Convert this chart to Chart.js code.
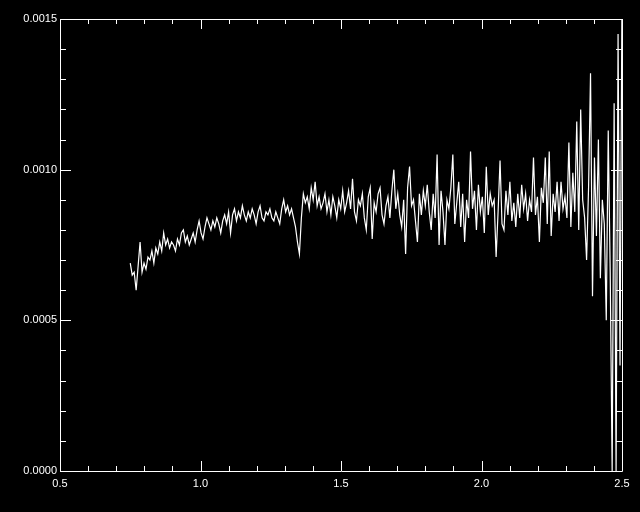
<!DOCTYPE html>
<html>
<head>
<meta charset="utf-8">
<script src="https://cdn.jsdelivr.net/npm/chart.js@4/dist/chart.umd.min.js"></script>
<style>
  html, body { margin: 0; padding: 0; background: #000; }
  canvas { display: block; }
</style>
</head>
<body>
<canvas id="c" width="640" height="512"></canvas>
<script>
// Wavelength grid of the spectrum (start and spacing)
const X_START = 0.75;
const X_STEP = 0.007;

// Flux values
const flux = [
  6.9e-4, 6.5e-4, 6.6e-4, 6.0e-4, 6.8e-4, 7.6e-4, 6.6e-4, 6.9e-4, 6.7e-4, 7.1e-4,
  7.0e-4, 7.3e-4, 6.9e-4, 7.4e-4, 7.2e-4, 7.6e-4, 7.3e-4, 7.9e-4, 7.5e-4, 7.7e-4,
  7.4e-4, 7.6e-4, 7.5e-4, 7.3e-4, 7.7e-4, 7.5e-4, 7.9e-4, 8.0e-4, 7.6e-4, 7.8e-4,
  7.5e-4, 7.7e-4, 7.9e-4, 7.6e-4, 8.0e-4, 8.3e-4, 7.9e-4, 7.7e-4, 8.1e-4, 8.4e-4,
  8.2e-4, 8.0e-4, 8.3e-4, 8.1e-4, 8.4e-4, 8.2e-4, 7.9e-4, 8.3e-4, 8.5e-4, 8.2e-4,
  8.6e-4, 7.9e-4, 8.5e-4, 8.7e-4, 8.3e-4, 8.6e-4, 8.4e-4, 8.8e-4, 8.5e-4, 8.3e-4,
  8.6e-4, 8.4e-4, 8.7e-4, 8.5e-4, 8.2e-4, 8.6e-4, 8.8e-4, 8.4e-4, 8.3e-4, 8.6e-4,
  8.5e-4, 8.7e-4, 8.4e-4, 8.3e-4, 8.6e-4, 8.4e-4, 8.2e-4, 8.7e-4, 9.0e-4, 8.6e-4,
  8.8e-4, 8.5e-4, 8.7e-4, 8.4e-4, 8.1e-4, 7.6e-4, 7.2e-4, 8.4e-4, 9.2e-4, 8.9e-4,
  9.1e-4, 8.7e-4, 9.4e-4, 9.0e-4, 9.6e-4, 8.8e-4, 9.1e-4, 8.7e-4, 8.9e-4, 9.2e-4,
  8.6e-4, 9.0e-4, 8.5e-4, 9.1e-4, 8.8e-4, 8.4e-4, 9.0e-4, 8.7e-4, 9.3e-4, 8.6e-4,
  8.9e-4, 9.3e-4, 8.7e-4, 9.7e-4, 8.6e-4, 8.3e-4, 9.0e-4, 8.8e-4, 9.2e-4, 8.4e-4,
  8.0e-4, 9.1e-4, 9.4e-4, 7.7e-4, 8.9e-4, 8.6e-4, 9.2e-4, 9.4e-4, 8.5e-4, 8.2e-4,
  8.8e-4, 9.1e-4, 8.4e-4, 9.3e-4, 10.0e-4, 8.7e-4, 9.2e-4, 8.5e-4, 8.1e-4, 9.0e-4,
  7.2e-4, 9.4e-4, 10.1e-4, 8.8e-4, 9.0e-4, 8.3e-4, 7.6e-4, 9.2e-4, 8.5e-4, 9.3e-4,
  8.8e-4, 9.5e-4, 8.6e-4, 8.0e-4, 9.2e-4, 8.4e-4, 10.5e-4, 7.5e-4, 9.3e-4, 8.6e-4,
  7.5e-4, 9.0e-4, 8.7e-4, 9.4e-4, 10.5e-4, 8.2e-4, 8.9e-4, 9.6e-4, 8.1e-4, 9.2e-4,
  7.6e-4, 9.0e-4, 8.4e-4, 10.6e-4, 8.7e-4, 9.3e-4, 8.0e-4, 9.5e-4, 8.6e-4, 9.1e-4,
  7.9e-4, 10.1e-4, 8.5e-4, 9.2e-4, 8.8e-4, 9.0e-4, 7.1e-4, 8.6e-4, 10.3e-4, 8.2e-4,
  8.0e-4, 9.3e-4, 8.5e-4, 9.6e-4, 8.3e-4, 8.9e-4, 8.1e-4, 9.2e-4, 8.4e-4, 9.5e-4,
  8.7e-4, 9.2e-4, 8.3e-4, 9.0e-4, 8.6e-4, 10.4e-4, 8.5e-4, 9.1e-4, 7.6e-4, 9.4e-4,
  8.9e-4, 10.4e-4, 8.2e-4, 10.6e-4, 7.8e-4, 9.2e-4, 8.6e-4, 9.6e-4, 8.3e-4, 9.6e-4,
  8.7e-4, 9.1e-4, 8.4e-4, 10.9e-4, 8.1e-4, 9.9e-4, 8.6e-4, 11.6e-4, 8.0e-4, 12.0e-4,
  9.0e-4, 8.4e-4, 7.0e-4, 9.4e-4, 13.2e-4, 5.8e-4, 10.4e-4, 7.8e-4, 11.0e-4, 6.4e-4,
  9.0e-4, 8.2e-4, 5.0e-4, 11.3e-4, 6.6e-4, 0.0, 12.2e-4, 0.0, 14.5e-4, 3.5e-4, 16.0e-4
];

// Axis ranges and tick settings
const X_MIN = 0.5, X_MAX = 2.5, X_MINOR = 0.1, X_MAJOR = 0.5;
const Y_MIN = 0.0, Y_MAX = 0.0015, Y_MINOR = 0.0001, Y_MAJOR = 0.0005;

const points = flux.map((v, i) => ({ x: X_START + i * X_STEP, y: v }));

const isMajor = (v, step) => Math.abs(v / step - Math.round(v / step)) < 1e-6;

const framePlugin = {
  id: 'idlFrame',
  beforeDraw(chart) {
    const ctx = chart.ctx;
    ctx.save();
    ctx.fillStyle = '#000';
    ctx.fillRect(0, 0, chart.width, chart.height);
    ctx.restore();
  },
  afterDraw(chart) {
    const ctx = chart.ctx;
    const a = chart.chartArea;
    const xs = chart.scales.x, ys = chart.scales.y;
    ctx.save();
    ctx.strokeStyle = '#fff';
    ctx.lineWidth = 1;
    ctx.beginPath();
    ctx.rect(Math.round(a.left) + 0.5, Math.round(a.top) + 0.5,
             Math.round(a.right - a.left), Math.round(a.bottom - a.top));
    ctx.stroke();
    ctx.beginPath();
    xs.ticks.forEach(t => {
      const px = Math.round(xs.getPixelForValue(t.value)) + 0.5;
      const len = isMajor(t.value, X_MAJOR) ? 10 : 5;
      ctx.moveTo(px, a.bottom); ctx.lineTo(px, a.bottom - len);
      ctx.moveTo(px, a.top); ctx.lineTo(px, a.top + len);
    });
    ys.ticks.forEach(t => {
      const py = Math.round(ys.getPixelForValue(t.value)) + 0.5;
      const len = isMajor(t.value, Y_MAJOR) ? 11 : 6;
      ctx.moveTo(a.left, py); ctx.lineTo(a.left + len, py);
      ctx.moveTo(a.right, py); ctx.lineTo(a.right - len, py);
    });
    ctx.stroke();
    ctx.restore();
  }
};

new Chart(document.getElementById('c'), {
  type: 'line',
  data: {
    datasets: [{
      data: points,
      borderColor: '#fff',
      borderWidth: 1.2,
      pointRadius: 0,
      tension: 0,
      fill: false
    }]
  },
  options: {
    responsive: false,
    animation: false,
    layout: { padding: { top: 19, right: 18, left: 0, bottom: 0 } },
    plugins: { legend: { display: false }, tooltip: { enabled: false } },
    scales: {
      x: {
        type: 'linear',
        min: X_MIN, max: X_MAX,
        afterFit(s) { s.height = 41; },
        border: { display: false },
        grid: { display: false, drawTicks: false },
        ticks: {
          stepSize: X_MINOR,
          autoSkip: false,
          maxRotation: 0,
          padding: 6,
          color: '#fff',
          font: { family: 'Liberation Sans, Arial, sans-serif', size: 11 },
          callback: v => isMajor(v, X_MAJOR) ? v.toFixed(1) : ''
        }
      },
      y: {
        min: Y_MIN, max: Y_MAX,
        afterFit(s) { s.width = 60; },
        border: { display: false },
        grid: { display: false, drawTicks: false },
        ticks: {
          stepSize: Y_MINOR,
          autoSkip: false,
          padding: 3,
          color: '#fff',
          font: { family: 'Liberation Sans, Arial, sans-serif', size: 11 },
          callback: v => isMajor(v, Y_MAJOR) ? v.toFixed(4) : ''
        }
      }
    }
  },
  plugins: [framePlugin]
});
</script>
</body>
</html>
